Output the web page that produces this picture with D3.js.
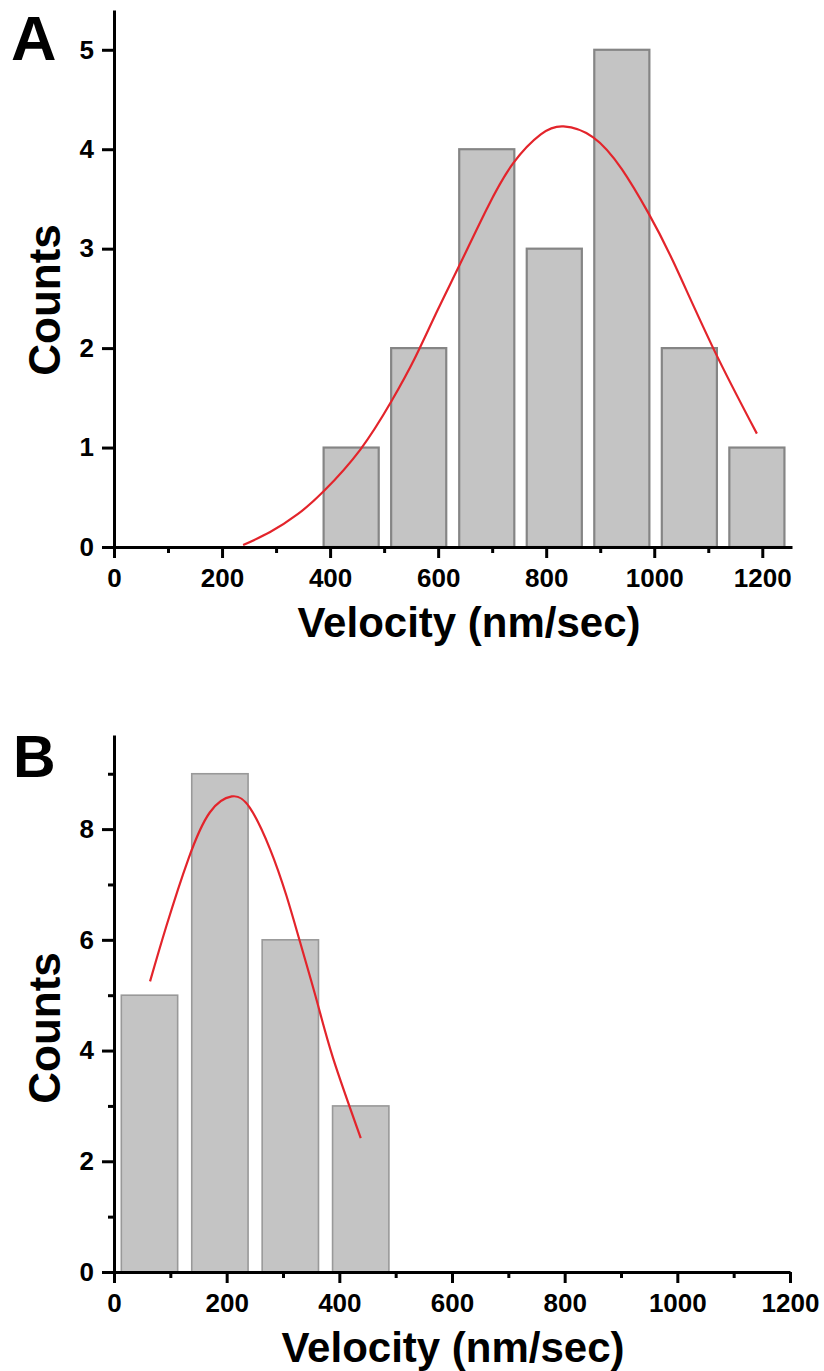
<!DOCTYPE html>
<html>
<head>
<meta charset="utf-8">
<script src="https://cdn.jsdelivr.net/npm/d3@7"></script>
<style>
  body { margin: 0; background: #fff; }
  text { font-family: "Liberation Sans", Arial, sans-serif; font-weight: bold; }
</style>
</head>
<body>
<div id="chart"></div>
<script>
// panel A - histogram counts per velocity bin
var binsA = [439, 564, 690, 815, 940, 1065, 1190];
var countsA = [1, 2, 4, 3, 5, 2, 1];
// fitted curve
var fitXA = [239, 289, 340, 388, 456, 514, 557, 598, 641, 690, 739, 790, 832, 887, 940, 989, 1036, 1110, 1190];
var fitYA = [0.02, 0.15, 0.33, 0.56, 0.98, 1.47, 1.9, 2.37, 2.85, 3.4, 3.86, 4.15, 4.23, 4.12, 3.8, 3.36, 2.86, 1.99, 1.14];

// panel B
var binsB = [63, 188, 313, 438];
var countsB = [5, 9, 6, 3];
var fitXB = [64, 93, 132, 170, 209, 241, 277, 306, 330, 360, 389, 438];
var fitYB = [5.25, 6.25, 7.46, 8.3, 8.59, 8.39, 7.64, 6.8, 5.97, 4.9, 3.86, 2.42];

// ticks
var xMajor = [0, 200, 400, 600, 800, 1000, 1200];
var xMinor = [100, 300, 500, 700, 900, 1100];
var yMajorA = [0, 1, 2, 3, 4, 5];
var yMajorB = [0, 2, 4, 6, 8];
var yMinorB = [1, 3, 5, 7, 9];

var width = 824, height = 1371;

var svg = d3.select('#chart')
  .append('svg')
  .attr('width', width)
  .attr('height', height);

function panel(opt) {
  var x = d3.scaleLinear().domain(opt.xDomain).range([114, opt.xRight]);
  var y = d3.scaleLinear().domain(opt.yDomain).range([opt.yBottom, opt.yTop]);
  var g = svg.append('g');

  // bars
  g.selectAll('rect.bar')
    .data(opt.bins)
    .enter()
    .append('rect')
    .attr('class', 'bar')
    .attr('x', function(d){ return x(d - opt.barW / 2); })
    .attr('width', function(d){ return x(d + opt.barW / 2) - x(d - opt.barW / 2); })
    .attr('y', function(d, i){ return y(opt.counts[i]); })
    .attr('height', function(d, i){ return y(0) - y(opt.counts[i]); })
    .attr('fill', '#c4c4c4')
    .attr('stroke', opt.barStroke)
    .attr('stroke-width', opt.barStrokeW);

  // fit curve
  var pts = opt.fitX.map(function(v, i){ return [v, opt.fitY[i]]; });
  var line = d3.line()
    .x(function(d){ return x(d[0]); })
    .y(function(d){ return y(d[1]); })
    .curve(d3.curveNatural);
  g.append('path')
    .datum(pts)
    .attr('d', line)
    .attr('fill', 'none')
    .attr('stroke', '#e3242b')
    .attr('stroke-width', 2.2);

  // x axis
  var xAxis = d3.axisBottom(x)
    .tickValues(xMajor)
    .tickSize(11)
    .tickSizeOuter(0)
    .tickPadding(10.5)
    .tickFormat(d3.format('d'));
  g.append('g')
    .attr('transform', 'translate(0,' + y(0) + ')')
    .call(xAxis);
  g.append('g')
    .attr('transform', 'translate(0,' + y(0) + ')')
    .call(d3.axisBottom(x).tickValues(xMinor).tickSize(6).tickSizeOuter(0).tickFormat(''))
    .select('.domain').remove();

  // y axis
  var yAxis = d3.axisLeft(y)
    .tickValues(opt.yMajor)
    .tickSize(12)
    .tickSizeOuter(0)
    .tickPadding(8)
    .tickFormat(d3.format('d'));
  g.append('g')
    .attr('transform', 'translate(' + x(0) + ',0)')
    .call(yAxis);
  if (opt.yMinor) {
    g.append('g')
      .attr('transform', 'translate(' + x(0) + ',0)')
      .call(d3.axisLeft(y).tickValues(opt.yMinor).tickSize(6).tickSizeOuter(0).tickFormat(''))
      .select('.domain').remove();
  }

  g.selectAll('.domain').attr('stroke', '#000').attr('stroke-width', 3);
  g.selectAll('.tick line').attr('stroke', '#000').attr('stroke-width', 3);
  g.selectAll('.tick text')
    .attr('fill', '#000')
    .style('font-size', '26px')
    .style('font-family', '"Liberation Sans", Arial, sans-serif')
    .style('font-weight', 'bold');

  // titles
  g.append('text')
    .attr('x', opt.titleX)
    .attr('y', y(0) + 90)
    .attr('text-anchor', 'middle')
    .style('font-size', '42px')
    .text('Velocity (nm/sec)');

  g.append('text')
    .attr('transform', 'translate(60,' + opt.countsY + ') rotate(-90)')
    .attr('text-anchor', 'middle')
    .style('font-size', '44px')
    .text('Counts');

  g.append('text')
    .attr('x', opt.letterX)
    .attr('y', opt.letterY)
    .style('font-size', opt.letterSize + 'px')
    .text(opt.letter);
}

panel({
  xDomain: [0, 1255], xRight: 792,
  yDomain: [0, 5.4], yBottom: 547, yTop: 10,
  bins: binsA, counts: countsA, barW: 102,
  barStroke: '#858585', barStrokeW: 2.2,
  fitX: fitXA, fitY: fitYA,
  yMajor: yMajorA, yMinor: null,
  titleX: 469, countsY: 300,
  letter: 'A', letterX: 11, letterY: 60, letterSize: 63
});

panel({
  xDomain: [0, 1200], xRight: 790,
  yDomain: [0, 9.7], yBottom: 1272, yTop: 735,
  bins: binsB, counts: countsB, barW: 100,
  barStroke: '#999', barStrokeW: 1.6,
  fitX: fitXB, fitY: fitYB,
  yMajor: yMajorB, yMinor: yMinorB,
  titleX: 453, countsY: 1028,
  letter: 'B', letterX: 13, letterY: 777, letterSize: 59
});
</script>
</body>
</html>
